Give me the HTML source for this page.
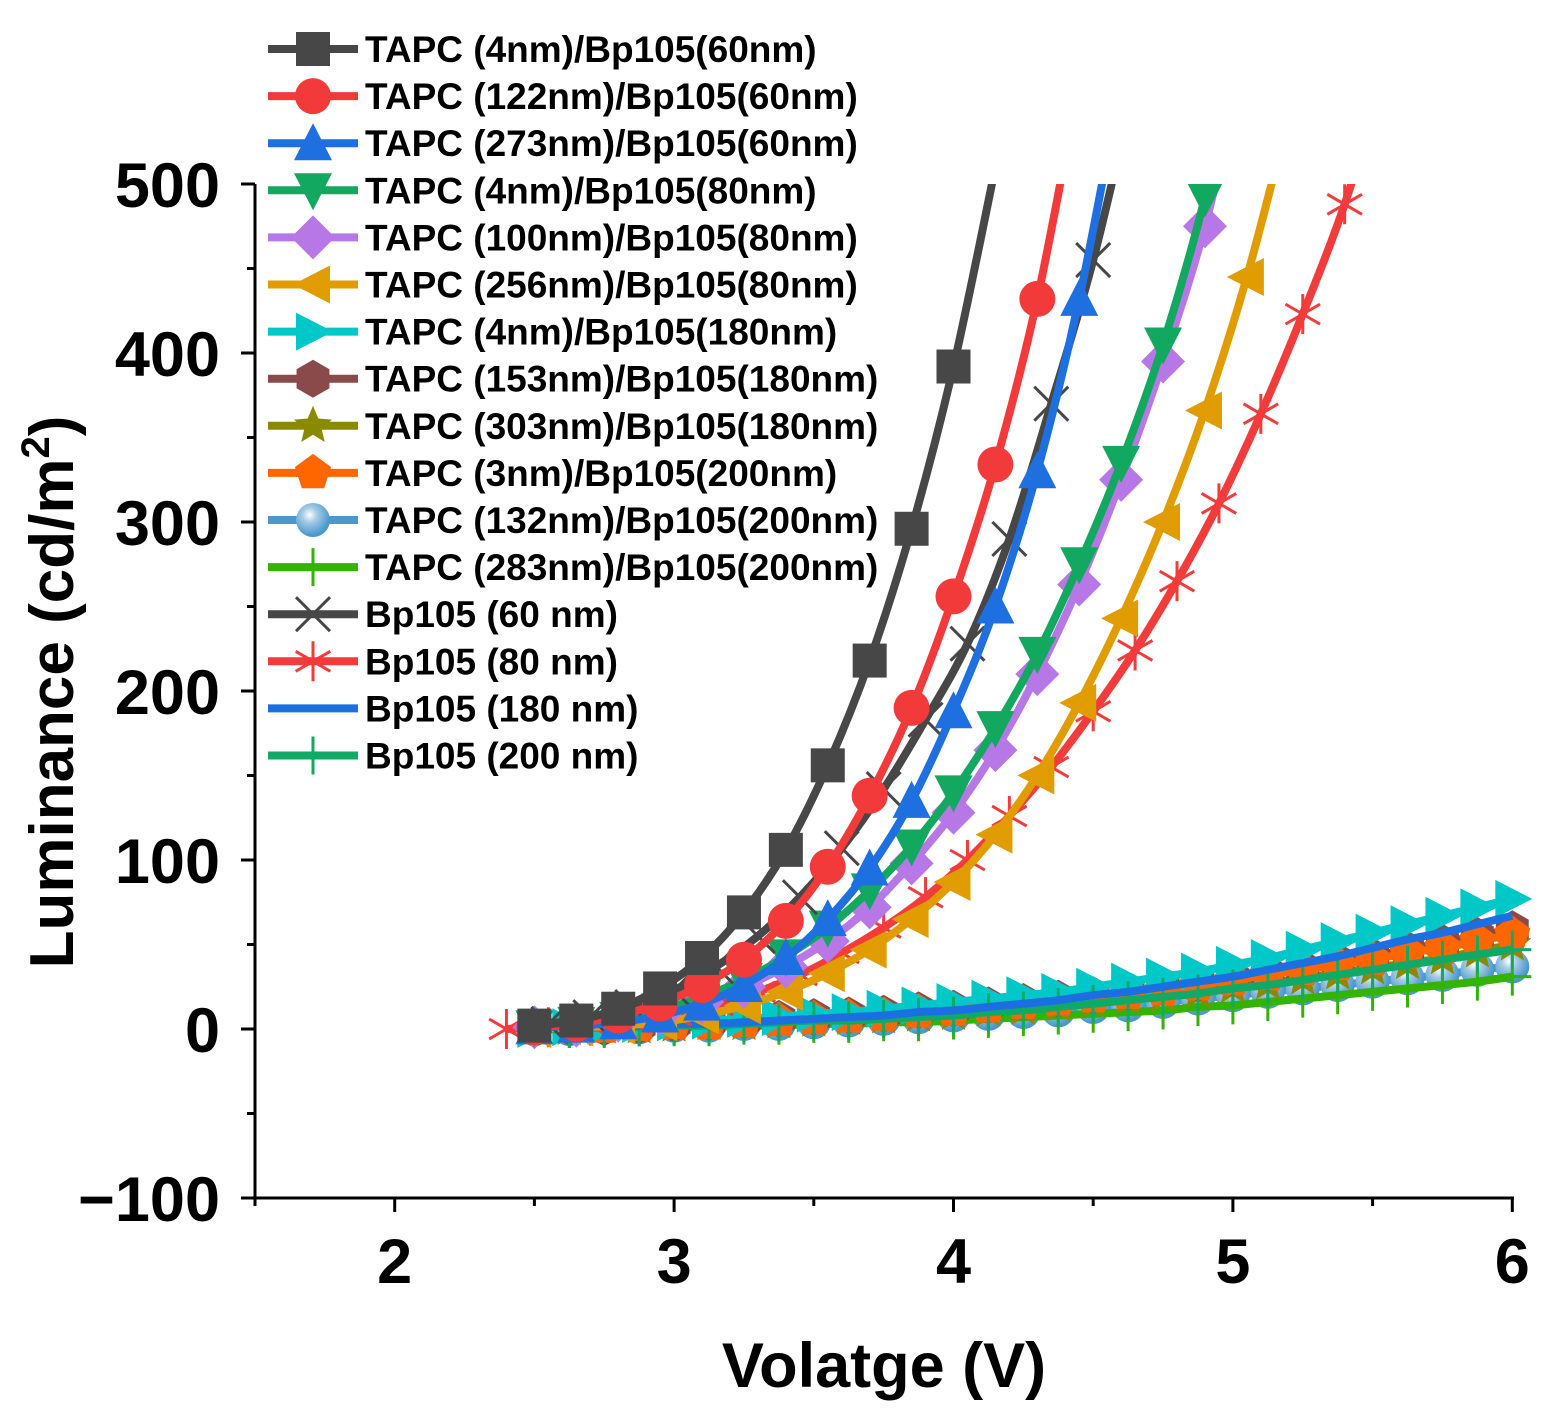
<!DOCTYPE html>
<html><head><meta charset="utf-8">
<style>
html,body{margin:0;padding:0;background:#fff;}
svg{display:block;font-family:"Liberation Sans",Arial,sans-serif;font-weight:bold;}
</style></head>
<body>
<svg id="chart" width="1553" height="1426" viewBox="0 0 1553 1426" xmlns="http://www.w3.org/2000/svg">
<defs>
<clipPath id="plotclip"><rect x="255" y="184" width="1280" height="1014"/></clipPath>
<radialGradient id="sph" cx="0.4" cy="0.35" r="0.6"><stop offset="0" stop-color="#ffffff"/><stop offset="0.35" stop-color="#a8cde6"/><stop offset="1" stop-color="#4a98cc"/></radialGradient>
</defs>
<g id="axes"></g>
<g id="series" clip-path="url(#plotclip)"></g>
<g id="legend"></g>
<text x="884" y="1387" font-size="63" text-anchor="middle">Volatge (V)</text>
<text transform="translate(73,692) rotate(-90)" font-size="62" text-anchor="middle">Luminance (cd/m<tspan dy="-24" font-size="40">2</tspan><tspan dy="24">)</tspan></text>
</svg>
<script>
// ---- data ----
const xTicks = [2, 3, 4, 5, 6];
const yTicks = [-100, 0, 100, 200, 300, 400, 500];
const yTickLabels = ["\u2212100", "0", "100", "200", "300", "400", "500"];

const v_s1 = [2.5,2.65,2.8,2.95,3.1,3.25,3.4,3.55,3.7,3.85,4.0,4.15];
const l_s1 = [2,5,12,24,42,69,106,156,218,296,392,510];
const v_s2 = [2.5,2.65,2.8,2.95,3.1,3.25,3.4,3.55,3.7,3.85,4.0,4.15,4.3,4.45];
const l_s2 = [1,3,8,15,26,41,64,96,138,190,256,334,432,560];
const v_s3 = [2.5,2.65,2.8,2.95,3.1,3.25,3.4,3.55,3.7,3.85,4.0,4.15,4.3,4.45,4.6];
const l_s3 = [1,2,4,8,15,26,42,65,95,135,188,250,330,432,560];
const v_s4 = [2.5,2.65,2.8,2.95,3.1,3.25,3.4,3.55,3.7,3.85,4.0,4.15,4.3,4.45,4.6,4.75,4.9,5.05];
const l_s4 = [1,3,6,11,19,29,43,60,82,108,140,178,222,275,335,405,492,600];
const v_s5 = [2.5,2.65,2.8,2.95,3.1,3.25,3.4,3.55,3.7,3.85,4.0,4.15,4.3,4.45,4.6,4.75,4.9,5.05];
const l_s5 = [1,2,5,9,16,25,37,52,72,98,128,165,210,263,325,395,475,580];
const v_s6 = [2.5,2.65,2.8,2.95,3.1,3.25,3.4,3.55,3.7,3.85,4.0,4.15,4.3,4.45,4.6,4.75,4.9,5.05,5.2];
const l_s6 = [0,1,2,4,8,14,22,33,47,65,87,115,150,193,243,300,366,445,540];
const v_x60 = [2.55,2.7,2.85,3.0,3.15,3.3,3.45,3.6,3.75,3.9,4.05,4.2,4.35,4.5,4.65];
const l_x60 = [3,7,13,23,37,55,78,107,142,183,228,290,370,455,560];
const v_x80 = [2.4,2.55,2.7,2.85,3.0,3.15,3.3,3.45,3.6,3.75,3.9,4.05,4.2,4.35,4.5,4.65,4.8,4.95,5.1,5.25,5.4,5.55];
const l_x80 = [0,1,2,4,8,14,22,32,45,60,78,100,126,155,188,224,265,311,364,423,488,570];

const v_low = [2.5,2.625,2.75,2.875,3.0,3.125,3.25,3.375,3.5,3.625,3.75,3.875,4.0,4.125,4.25,4.375,4.5,4.625,4.75,4.875,5.0,5.125,5.25,5.375,5.5,5.625,5.75,5.875,6.0];
const l_cyan = [0,1,2,3,4,5,6,7,9,10,12,14,16,18,20,22,25,28,31,34,38,42,47,52,57,62,67,72,77];
const l_brown = [0,1,1,2,3,4,5,6,7,8,9,11,12,14,16,18,20,22,25,27,30,33,36,40,43,47,51,55,59];
const l_olive = [0,0,1,1,2,3,3,4,5,6,7,8,9,11,12,14,16,18,20,22,25,27,30,33,36,39,42,46,50];
const l_orangep = [0,1,1,2,3,3,4,5,6,7,8,10,11,13,15,17,19,21,23,26,29,32,35,38,41,45,48,52,56];
const l_sphere = [0,0,1,1,2,2,3,3,4,5,6,7,8,9,10,11,13,14,16,18,20,22,24,26,28,30,32,35,37];
const l_lgreen = [0,0,0,1,1,1,2,2,3,3,4,4,5,6,7,8,9,10,11,13,14,16,18,20,22,24,26,28,31];
const l_blue180 = [0,1,1,2,3,3,4,5,6,7,8,10,11,13,15,17,20,22,25,28,31,35,39,43,48,53,57,62,67];
const l_green200 = [0,0,1,1,2,2,3,4,5,5,6,7,8,10,11,13,15,17,19,21,24,26,29,32,35,38,41,44,47];

// ---- scales ----
const X0 = 255, PX = 279.4;
function xs(v){ return X0 + (v - 1.5) * PX; }
function ys(l){ return 1029 - l * 1.69; }

const NS = "http://www.w3.org/2000/svg";
function mk(tag, attrs, parent){
  const e = document.createElementNS(NS, tag);
  for (const k in attrs) e.setAttribute(k, attrs[k]);
  if (parent) parent.appendChild(e);
  return e;
}

// ---- axes ----
const axes = document.getElementById('axes');
mk('line',{x1:255,y1:184,x2:255,y2:1199,stroke:'#000','stroke-width':3},axes);
mk('line',{x1:254,y1:1198,x2:1514,y2:1198,stroke:'#000','stroke-width':3},axes);
for (let i = 0; i < xTicks.length; i++) {
  const x = xs(xTicks[i]);
  const t = mk('line',{x1:x,y1:1198,x2:x,y2:1212,stroke:'#000','stroke-width':3},axes);
  
  
  const lb = mk('text',{x:x,y:1283,'font-size':63,'text-anchor':'middle'},axes);
  lb.textContent = xTicks[i];
  
  
}
for (let v = 1.5; v < 6; v += 1) {
  const x = xs(v);
  const t = mk('line',{x1:x,y1:1198,x2:x,y2:1206,stroke:'#000','stroke-width':3},axes);
  
  
}
for (let i = 0; i < yTicks.length; i++) {
  const y = ys(yTicks[i]);
  const t = mk('line',{x1:241,y1:y,x2:255,y2:y,stroke:'#000','stroke-width':3},axes);
  
  
  const lb = mk('text',{x:220,y:y+23,'font-size':63,'text-anchor':'end'},axes);
  lb.textContent = yTickLabels[i];
  
  
  if (i < yTicks.length - 1) {
    const ym = ys(yTicks[i] + 50);
    const m = mk('line',{x1:247,y1:ym,x2:255,y2:ym,stroke:'#000','stroke-width':3},axes);
    
    
  }
}

// ---- markers ----
function marker(g, type, cx, cy, col, s){
  s = s || 17;
  let e;
  if (type === 'square') e = mk('rect',{x:cx-s,y:cy-s,width:2*s,height:2*s,fill:col},g);
  else if (type === 'circle') e = mk('circle',{cx:cx,cy:cy,r:s+1,fill:col},g);
  else if (type === 'sphere') e = mk('circle',{cx:cx,cy:cy,r:s,fill:'url(#sph)'},g);
  else if (type === 'up') e = mk('polygon',{points:`${cx},${cy-s-3} ${cx+s+2},${cy+s} ${cx-s-2},${cy+s}`,fill:col},g);
  else if (type === 'down') e = mk('polygon',{points:`${cx-s-2},${cy-s} ${cx+s+2},${cy-s} ${cx},${cy+s+3}`,fill:col},g);
  else if (type === 'left') e = mk('polygon',{points:`${cx-s-3},${cy} ${cx+s},${cy-s-2} ${cx+s},${cy+s+2}`,fill:col},g);
  else if (type === 'right') e = mk('polygon',{points:`${cx+s+3},${cy} ${cx-s},${cy-s-2} ${cx-s},${cy+s+2}`,fill:col},g);
  else if (type === 'diamond') e = mk('polygon',{points:`${cx},${cy-s-5} ${cx+s+5},${cy} ${cx},${cy+s+5} ${cx-s-5},${cy}`,fill:col},g);
  else if (type === 'hex') { let p=[]; for(let k=0;k<6;k++){const a=Math.PI/6+k*Math.PI/3;p.push((cx+(s+2)*Math.cos(a))+','+(cy+(s+2)*Math.sin(a)));} e = mk('polygon',{points:p.join(' '),fill:col},g); }
  else if (type === 'pent') { let p=[]; for(let k=0;k<5;k++){const a=-Math.PI/2+k*2*Math.PI/5;p.push((cx+(s+2)*Math.cos(a))+','+(cy+(s+2)*Math.sin(a)));} e = mk('polygon',{points:p.join(' '),fill:col},g); }
  else if (type === 'star') { let p=[]; for(let k=0;k<10;k++){const a=-Math.PI/2+k*Math.PI/5;const r=k%2?(s+3)*0.45:s+3;p.push((cx+r*Math.cos(a))+','+(cy+r*Math.sin(a)));} e = mk('polygon',{points:p.join(' '),fill:col},g); }
  else if (type === 'plus') { e = mk('path',{d:`M${cx},${cy-s-2}V${cy+s+2}M${cx-s-2},${cy}H${cx+s+2}`,stroke:col,'stroke-width':3,fill:'none'},g); }
  else if (type === 'x') { e = mk('path',{d:`M${cx-s},${cy-s}L${cx+s},${cy+s}M${cx-s},${cy+s}L${cx+s},${cy-s}`,stroke:col,'stroke-width':3,fill:'none'},g); }
  else if (type === 'ast') { let d=''; for(let k=0;k<3;k++){const a=Math.PI/6+k*Math.PI/3; d+=`M${cx-(s+3)*Math.cos(a)},${cy-(s+3)*Math.sin(a)}L${cx+(s+3)*Math.cos(a)},${cy+(s+3)*Math.sin(a)}`;} d+=`M${cx},${cy-s-3}V${cy+s+3}`; e = mk('path',{d:d,stroke:col,'stroke-width':3,fill:'none'},g); }
  return e;
}

function smoothPath(pts){
  let d = `M${pts[0][0]},${pts[0][1]}`;
  for (let i = 0; i < pts.length - 1; i++) {
    const p0 = pts[Math.max(0,i-1)], p1 = pts[i], p2 = pts[i+1], p3 = pts[Math.min(pts.length-1,i+2)];
    const c1x = p1[0] + (p2[0]-p0[0])/6, c1y = p1[1] + (p2[1]-p0[1])/6;
    const c2x = p2[0] - (p3[0]-p1[0])/6, c2y = p2[1] - (p3[1]-p1[1])/6;
    d += `C${c1x},${c1y} ${c2x},${c2y} ${p2[0]},${p2[1]}`;
  }
  return d;
}

const seriesLayer = document.getElementById('series');
function drawSeries(name, vs, ls, col, type, mcol){
  const g = mk('g',{},seriesLayer);
  
  
  const pts = vs.map((v,i)=>[xs(v), ys(ls[i])]);
  const p = mk('path',{d:smoothPath(pts),stroke:col,'stroke-width':8,fill:'none','stroke-linejoin':'round'},g);
  
  
  if (type) {
    for (let i = 0; i < vs.length; i++) {
      if (ls[i] > 505) continue;
      const m = marker(g, type, xs(vs[i]), ys(ls[i]), mcol || col);
      
      
    }
  }
}

// low series first (underneath)
drawSeries('tapc-132-bp105-200', v_low, l_sphere, '#4a98cc', 'sphere');
drawSeries('tapc-283-bp105-200', v_low, l_lgreen, '#33b400', 'plus');
drawSeries('tapc-303-bp105-180', v_low, l_olive, '#8a8a00', 'star');
drawSeries('tapc-153-bp105-180', v_low, l_brown, '#8b4a4a', 'hex');
drawSeries('tapc-3-bp105-200', v_low, l_orangep, '#ff6600', 'pent');
drawSeries('tapc-4-bp105-180', v_low, l_cyan, '#00c8c8', 'right');
drawSeries('bp105-200', v_low, l_green200, '#10aa66', 'plus');
drawSeries('bp105-180', v_low, l_blue180, '#1b6fe0', null);
// high series
drawSeries('bp105-80', v_x80, l_x80, '#f23c3c', 'ast');
drawSeries('tapc-256-bp105-80', v_s6, l_s6, '#e09c00', 'left');
drawSeries('tapc-100-bp105-80', v_s5, l_s5, '#b877e6', 'diamond');
drawSeries('tapc-4-bp105-80', v_s4, l_s4, '#12a860', 'down');
drawSeries('bp105-60', v_x60, l_x60, '#474747', 'x');
drawSeries('tapc-273-bp105-60', v_s3, l_s3, '#1e6fe0', 'up');
drawSeries('tapc-122-bp105-60', v_s2, l_s2, '#f23a3a', 'circle');
drawSeries('tapc-4-bp105-60', v_s1, l_s1, '#474747', 'square');

// ---- legend ----
const legNames = ["TAPC (4nm)/Bp105(60nm)","TAPC (122nm)/Bp105(60nm)","TAPC (273nm)/Bp105(60nm)","TAPC (4nm)/Bp105(80nm)","TAPC (100nm)/Bp105(80nm)","TAPC (256nm)/Bp105(80nm)","TAPC (4nm)/Bp105(180nm)","TAPC (153nm)/Bp105(180nm)","TAPC (303nm)/Bp105(180nm)","TAPC (3nm)/Bp105(200nm)","TAPC (132nm)/Bp105(200nm)","TAPC (283nm)/Bp105(200nm)","Bp105 (60 nm)","Bp105 (80 nm)","Bp105 (180 nm)","Bp105 (200 nm)"];
const legColors = ['#474747','#f23a3a','#1e6fe0','#12a860','#b877e6','#e09c00','#00c8c8','#8b4a4a','#8a8a00','#ff6600','#4a98cc','#33b400','#474747','#f23c3c','#1b6fe0','#10aa66'];
const legTypes = ['square','circle','up','down','diamond','left','right','hex','star','pent','sphere','plus','x','ast',null,'plus'];
const legend = document.getElementById('legend');
for (let i = 0; i < legNames.length; i++) {
  const y = 49 + i * 47.1;
  const g = mk('g',{},legend);
  
  
  mk('line',{x1:268,y1:y,x2:358,y2:y,stroke:legColors[i],'stroke-width':8},g);
  if (legTypes[i]) marker(g, legTypes[i], 313, y, legColors[i]);
  const t = mk('text',{x:365,y:y+13,'font-size':37},g);
  t.textContent = legNames[i];
}
</script>
</body></html>
